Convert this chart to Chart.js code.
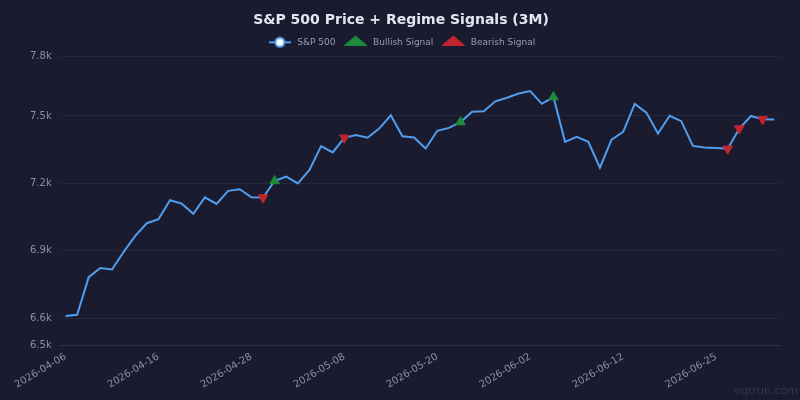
<!DOCTYPE html>
<html>
<head>
<meta charset="utf-8">
<script src="https://cdn.jsdelivr.net/npm/chart.js@4.4.1/dist/chart.umd.min.js"></script>
<style>
  html, body { margin: 0; padding: 0; background: #1a1b2e; }
  #wrap { width: 800px; height: 400px; }
</style>
</head>
<body>
<div id="wrap"><canvas id="priceCanvas"></canvas></div>
<script>
// trading days, 2026-04-06 .. 2026-07-02
const dates = [
  "2026-04-06","2026-04-07","2026-04-08","2026-04-09","2026-04-10",
  "2026-04-13","2026-04-14","2026-04-15","2026-04-16","2026-04-17",
  "2026-04-20","2026-04-21","2026-04-22","2026-04-23","2026-04-24",
  "2026-04-27","2026-04-28","2026-04-29","2026-04-30","2026-05-01",
  "2026-05-04","2026-05-05","2026-05-06","2026-05-07","2026-05-08",
  "2026-05-11","2026-05-12","2026-05-13","2026-05-14","2026-05-15",
  "2026-05-18","2026-05-19","2026-05-20","2026-05-21","2026-05-22",
  "2026-05-26","2026-05-27","2026-05-28","2026-05-29","2026-06-01",
  "2026-06-02","2026-06-03","2026-06-04","2026-06-05","2026-06-08",
  "2026-06-09","2026-06-10","2026-06-11","2026-06-12","2026-06-15",
  "2026-06-16","2026-06-17","2026-06-18","2026-06-22","2026-06-23",
  "2026-06-24","2026-06-25","2026-06-26","2026-06-29","2026-06-30",
  "2026-07-01","2026-07-02"
];

const prices = [
  6610, 6616, 6783, 6824, 6817, 6895, 6967, 7023, 7041, 7125,
  7110, 7065, 7138, 7109, 7167, 7174, 7138, 7137, 7211, 7230,
  7200, 7260, 7366, 7338, 7403, 7415, 7403, 7444, 7503, 7410,
  7404, 7355, 7434, 7447, 7473, 7519, 7521, 7565, 7581, 7600,
  7611, 7554, 7584, 7385, 7407, 7385, 7270, 7395, 7429, 7554,
  7515, 7422, 7501, 7477, 7367, 7360, 7358, 7354, 7444, 7500,
  7485, 7484
];

// indexes into dates where a regime signal fired
const bullishDays = [18, 34, 42];
const bearishDays = [17, 24, 57, 58, 60];

const yTicks = [6600, 6900, 7200, 7500];

const bullish = prices.map((p, i) => bullishDays.includes(i) ? p : null);
const bearish = prices.map((p, i) => bearishDays.includes(i) ? p : null);

const yMin = Math.min(...prices) * 0.98;
const yMax = Math.max(...prices) * 1.02;

// legend icon for the price line: line with a hollow dot
function lineIcon() {
  const c = document.createElement("canvas");
  c.width = 22; c.height = 12;
  const g = c.getContext("2d");
  g.strokeStyle = "#4f9ef0";
  g.lineWidth = 2;
  g.beginPath(); g.moveTo(0, 6); g.lineTo(22, 6); g.stroke();
  g.fillStyle = "#ffffff";
  g.beginPath(); g.arc(11, 6, 4.5, 0, Math.PI * 2); g.fill(); g.stroke();
  return c;
}

const bgPlugin = {
  id: "bg",
  beforeDraw(chart) {
    const ctx = chart.ctx;
    ctx.save();
    ctx.fillStyle = "#1a1b2e";
    ctx.fillRect(0, 0, chart.width, chart.height);
    ctx.restore();
  },
  afterDraw(chart) {
    const ctx = chart.ctx;
    ctx.save();
    ctx.font = "11px 'DejaVu Sans'";
    ctx.fillStyle = "#33364e";
    ctx.textAlign = "right";
    ctx.textBaseline = "alphabetic";
    ctx.fillText("eqtrun.com", chart.width - 2, 394);
    ctx.restore();
  }
};

Chart.defaults.font.family = "'DejaVu Sans', sans-serif";
Chart.defaults.color = "#8b8fa3";

window.onload = function () {
  const icon = lineIcon();
  const ctx = document.getElementById("priceCanvas").getContext("2d");
  window.priceChart = new Chart(ctx, {
    type: "line",
    data: {
      labels: dates,
      datasets: [
        {
          label: "S&P 500",
          data: prices,
          borderColor: "#4f9ef0",
          backgroundColor: "#4f9ef0",
          borderWidth: 2,
          pointRadius: 0,
          tension: 0,
          order: 2
        },
        {
          label: "Bullish Signal",
          data: bullish,
          showLine: false,
          pointStyle: "triangle",
          pointRadius: 5.5,
          borderWidth: 1,
          backgroundColor: "#1d8a3e",
          borderColor: "#1d8a3e",
          order: 1
        },
        {
          label: "Bearish Signal",
          data: bearish,
          showLine: false,
          pointStyle: "triangle",
          rotation: 180,
          pointRadius: 5.5,
          borderWidth: 1,
          backgroundColor: "#c2252d",
          borderColor: "#c2252d",
          order: 1
        }
      ]
    },
    options: {
      responsive: true,
      maintainAspectRatio: false,
      animation: false,
      layout: { padding: { left: 22, right: 20, top: 4, bottom: 0 } },
      plugins: {
        title: {
          display: true,
          text: "S&P 500 Price + Regime Signals (3M)",
          color: "#e4e5ef",
          font: { size: 14, weight: "bold" },
          padding: { top: 8, bottom: 2 }
        },
        legend: {
          labels: {
            usePointStyle: true,
            pointStyleWidth: 26,
            color: "#9a9cae",
            font: { size: 9 },
            padding: 7,
            generateLabels(chart) {
              const items = Chart.defaults.plugins.legend.labels.generateLabels(chart);
              items.sort((a, b) => a.datasetIndex - b.datasetIndex);
              items[0].pointStyle = icon;
              items[2].rotation = 0;
              return items;
            }
          }
        },
        tooltip: { enabled: false }
      },
      scales: {
        x: {
          offset: true,
          grid: { display: false },
          border: { color: "#2c2e4a" },
          afterFit(scale) { scale.height += 12; },
          ticks: {
            autoSkip: false,
            minRotation: 31,
            maxRotation: 31,
            padding: -3,
            font: { size: 10 },
            color: "#8b8fa3",
            callback(v, i) { return i % 8 === 0 ? dates[i] : null; }
          }
        },
        y: {
          min: yMin,
          max: yMax,
          border: { display: false },
          grid: { color: "#24263c", drawTicks: false },
          afterBuildTicks(scale) {
            scale.ticks = [yMin, ...yTicks, yMax].map(v => ({ value: v }));
          },
          ticks: {
            padding: 8,
            font: { size: 10 },
            color: "#8b8fa3",
            callback(v) { return (v / 1000).toFixed(1) + "k"; }
          }
        }
      }
    },
    plugins: [bgPlugin]
  });
};
</script>
</body>
</html>
